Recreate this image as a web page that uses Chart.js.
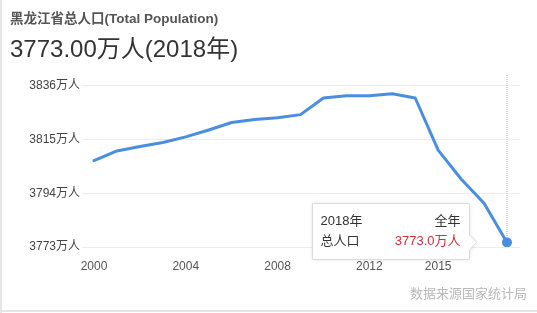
<!DOCTYPE html>
<html><head><meta charset="utf-8">
<script src="https://cdn.jsdelivr.net/npm/chart.js@4"></script>
<style>
html,body{margin:0;padding:0;background:#fff;}
#wrap{position:relative;width:537px;height:313px;overflow:hidden;background:#fff;}
#c{position:absolute;left:0;top:0;}
.t1{position:absolute;left:10px;top:10px;font:bold 13.5px/17px "Liberation Sans","Noto Sans CJK SC",sans-serif;color:#555;white-space:nowrap;}
.t2{position:absolute;left:10px;top:35px;font:24px/28px "Liberation Sans","Noto Sans CJK SC",sans-serif;color:#333;white-space:nowrap;}
.wm{position:absolute;right:10px;top:285px;font:13px/16px "Noto Sans CJK SC",sans-serif;color:#b8b8b8;white-space:nowrap;text-shadow:0 0 2px #fff;}
.bl{position:absolute;left:0;top:0;width:2px;height:313px;background:#e6e6e6;}
.bb{position:absolute;left:0;top:310px;width:537px;height:2px;background:#e6e6e6;}
</style>
</head><body>
<div id="wrap">
<canvas id="c" width="537" height="313"></canvas>
<div class="t1">黑龙江省总人口(Total Population)</div>
<div class="t2">3773.00万人(2018年)</div>
<div class="wm">数据来源国家统计局</div>
<div class="bl"></div><div class="bb"></div>
</div>
<script>
const years = [2000,2001,2002,2003,2004,2005,2006,2007,2008,2009,2010,2011,2012,2013,2014,2015,2016,2017,2018];
const population = [3806.8,3810.6,3812.3,3813.9,3816.1,3818.8,3821.7,3822.9,3823.6,3824.8,3831.3,3832.2,3832.2,3833.0,3831.3,3810.9,3799.6,3790.1,3774.8];
const yTicks = [3773,3794,3815,3836];
const xTicks = [2000,2004,2008,2012,2015];
const tipTitle = '2018年';
const tipPeriod = '全年';
const tipName = '总人口';
const tipValue = '3773.0万人';

const FONT = '"Liberation Sans","Noto Sans CJK SC",sans-serif';
const last = years.length - 1;

const tipPlugin = {
  id: 'tip',
  beforeDatasetsDraw(chart) {
    const p = chart.getDatasetMeta(0).data[last];
    const ctx = chart.ctx, a = chart.chartArea;
    ctx.save();
    ctx.strokeStyle = '#d8d8d8';
    ctx.lineWidth = 2;
    ctx.setLineDash([1, 1]);
    ctx.beginPath();
    ctx.moveTo(Math.round(p.x), a.top);
    ctx.lineTo(Math.round(p.x), a.bottom);
    ctx.stroke();
    ctx.restore();
  },
  afterDatasetsDraw(chart) {
    const p = chart.getDatasetMeta(0).data[last];
    const ctx = chart.ctx;
    const right = Math.round(p.x - 38) + 0.5;
    const left = right - 157;
    const top = Math.round(p.y - 39.5) + 0.5;
    const bottom = Math.round(p.y + 16.5) + 0.5;
    const ay = Math.round(p.y) + 0.5;
    ctx.save();
    ctx.beginPath();
    ctx.moveTo(left, top);
    ctx.lineTo(right, top);
    ctx.lineTo(right, ay - 7.5);
    ctx.lineTo(right + 7, ay);
    ctx.lineTo(right, ay + 7.5);
    ctx.lineTo(right, bottom);
    ctx.lineTo(left, bottom);
    ctx.closePath();
    ctx.shadowColor = 'rgba(0,0,0,0.12)';
    ctx.shadowBlur = 4;
    ctx.fillStyle = '#fff';
    ctx.fill();
    ctx.shadowColor = 'transparent';
    ctx.strokeStyle = '#dcdcdc';
    ctx.lineWidth = 1;
    ctx.stroke();
    ctx.font = '13px ' + FONT;
    ctx.textBaseline = 'middle';
    ctx.fillStyle = '#333';
    ctx.textAlign = 'left';
    ctx.fillText(tipTitle, left + 8, p.y - 21);
    ctx.fillText(tipName, left + 8, p.y - 1);
    ctx.textAlign = 'right';
    ctx.fillText(tipPeriod, right - 9, p.y - 21);
    ctx.fillStyle = '#c8323a';
    ctx.fillText(tipValue, right - 9, p.y - 1);
    ctx.restore();
  }
};

new Chart(document.getElementById('c'), {
  type: 'line',
  data: {
    datasets: [{
      data: years.map((y, i) => ({x: y, y: population[i]})),
      borderColor: '#4a8ee2',
      backgroundColor: '#4a8ee2',
      borderWidth: 3,
      tension: 0,
      fill: false,
      pointRadius: c => c.dataIndex === last ? 5 : 0,
      pointBorderWidth: 0,
      pointHoverRadius: 0,
      borderJoinStyle: 'round',
      borderCapStyle: 'round'
    }]
  },
  options: {
    responsive: false,
    animation: false,
    events: [],
    layout: {padding: {top: 75, right: 17, left: 0, bottom: 0}},
    plugins: {legend: {display: false}, tooltip: {enabled: false}},
    scales: {
      x: {
        type: 'linear',
        min: 1999.477,
        max: 2018.567,
        afterBuildTicks: s => { s.ticks = xTicks.map(v => ({value: v})); },
        afterFit: s => { s.height = 66; },
        grid: {display: false, drawTicks: false},
        border: {display: false},
        ticks: {
          padding: 12,
          color: '#555',
          font: {size: 12, family: FONT},
          maxRotation: 0,
          autoSkip: false,
          callback: v => String(v)
        }
      },
      y: {
        min: 3773,
        max: 3840.3,
        afterBuildTicks: s => { s.ticks = yTicks.map(v => ({value: v})); },
        afterFit: s => { s.width = 82; },
        grid: {color: '#ececec', lineWidth: 1, drawTicks: false},
        border: {display: false},
        ticks: {
          padding: 2,
          color: '#444',
          font: {size: 12, family: FONT},
          autoSkip: false,
          callback: v => v + '万人'
        }
      }
    }
  },
  plugins: [tipPlugin]
});
</script>
</body></html>
